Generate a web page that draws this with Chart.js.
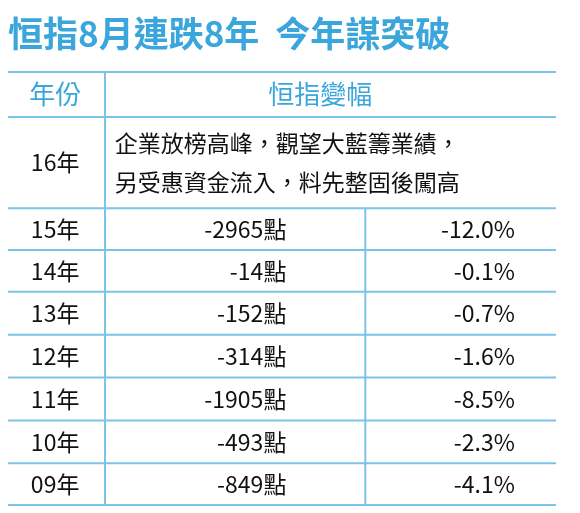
<!DOCTYPE html>
<html><head><meta charset="utf-8">
<script src="https://cdn.jsdelivr.net/npm/chart.js@4"></script>
<style>html,body{margin:0;background:#fff;overflow:hidden}#wrap{position:relative;width:580px;height:513px}canvas{display:block}</style>
</head><body>
<div id="wrap"><canvas id="c"></canvas></div>
<script>
const titleText = "恒指8月連跌8年  今年謀突破";
const headers = ["年份", "恒指變幅"];
const years = ["16年","15年","14年","13年","12年","11年","10年","09年","08年"];
const points = [null,-2965,-14,-152,-314,-1905,-493,-849,-1469];
const pct = [null,-12.0,-0.1,-0.7,-1.6,-8.5,-2.3,-4.1,-6.5];
const note16 = ["企業放榜高峰，觀望大藍籌業績，","另受惠資金流入，料先整固後闖高"];
const rowHeights = [41,83,38,38,39,39,39,39,38];

const edges=[0]; rowHeights.forEach(h=>edges.push(edges[edges.length-1]+h));
const BLUE="#3aa6dc", LINE="#7cc3e8", FONT="'Noto Sans CJK TC','Noto Sans CJK SC',sans-serif";

const tablePlugin={id:'table',afterDraw(ch){
  const c=ch.ctx, xs=ch.scales.x, ys=ch.scales.y;
  const X=v=>xs.getPixelForValue(v), Y=v=>ys.getPixelForValue(v);
  c.save();
  c.fillStyle=BLUE; c.font="bold 35px "+FONT; c.textBaseline="middle"; c.textAlign="left";
  c.fillText(titleText,8,34);
  c.strokeStyle=LINE; c.lineWidth=2;
  edges.forEach(e=>{c.beginPath();c.moveTo(X(0),Y(e));c.lineTo(X(100),Y(e));c.stroke();});
  c.beginPath();c.moveTo(X(17.7),Y(0));c.lineTo(X(17.7),Y(edges[edges.length-1]));c.stroke();
  c.beginPath();c.moveTo(X(65.2),Y(edges[2]));c.lineTo(X(65.2),Y(edges[edges.length-1]));c.stroke();
  const mid=i=>Y((edges[i]+edges[i+1])/2);
  c.fillStyle=BLUE; c.font="26px "+FONT; c.textAlign="center";
  c.fillText(headers[0],X(8.6),mid(0)); c.fillText(headers[1],X(57),mid(0));
  c.fillStyle="#111"; c.font="23px "+FONT;
  years.forEach((y,k)=>{const i=k+1; c.textAlign="center"; c.fillText(y,X(8.6),mid(i));
    if(points[k]===null){c.textAlign="left";
      c.fillText(note16[0],X(19.5),Y(edges[i]+rowHeights[i]*0.29));
      c.fillText(note16[1],X(19.5),Y(edges[i]+rowHeights[i]*0.71));
    } else {c.textAlign="right";
      c.fillText(points[k]+"點",X(50.8),mid(i));
      c.fillText(pct[k].toFixed(1)+"%",X(92.5),mid(i));}
  });
  c.restore();
}};
new Chart(document.getElementById('c'),{
  type:'scatter',data:{datasets:[{data:[]}]},
  options:{responsive:true,maintainAspectRatio:false,animation:false,events:[],
    layout:{padding:{left:8,right:24,top:72,bottom:8}},
    plugins:{legend:{display:false},tooltip:{enabled:false}},
    scales:{x:{type:'linear',min:0,max:100,display:false},
      y:{type:'linear',min:0,max:edges[edges.length-1],reverse:true,display:false}}},
  plugins:[tablePlugin]});
</script></body></html>
